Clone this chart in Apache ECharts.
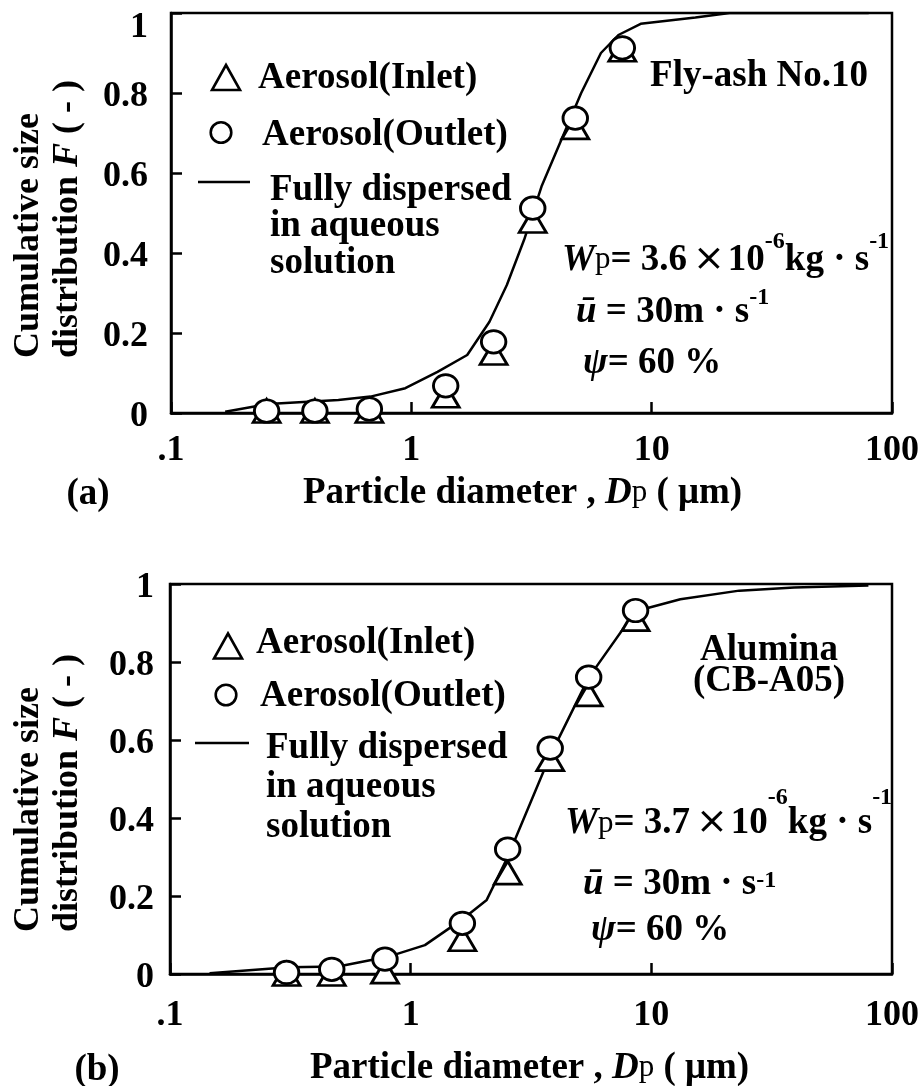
<!DOCTYPE html>
<html>
<head>
<meta charset="utf-8">
<script src="https://cdn.jsdelivr.net/npm/echarts@6/dist/echarts.min.js"></script>
<style>
  html, body { margin: 0; padding: 0; background: #fff; }
  #chart { width: 923px; height: 1086px; }
</style>
</head>
<body>
<div id="chart"></div>
<script>
// tick labels
const xTickLabels = ['.1', '1', '10', '100'];
const yTickLabels = ['0', '0.2', '0.4', '0.6', '0.8', '1'];

// (a) Fly-ash No.10 : measured points
const dpA = [0.25, 0.397, 0.669, 1.39, 2.20, 3.20, 4.81, 7.55];
const inletA = [0.005, 0.005, 0.005, 0.043, 0.15, 0.48, 0.714, 0.908];
const outletA = [0.005, 0.005, 0.01, 0.068, 0.178, 0.512, 0.737, 0.913];
// (a) fully dispersed in aqueous solution
const curveDpA = [0.168, 0.254, 0.497, 0.676, 0.944, 1.285, 1.708, 2.114, 2.497, 2.946, 3.48, 4.21, 5.09, 6.15, 7.27, 9.0, 15.2, 21.1, 80];
const curveFA = [0.003, 0.0225, 0.0325, 0.041, 0.062, 0.103, 0.145, 0.228, 0.32, 0.433, 0.566, 0.683, 0.80, 0.90, 0.945, 0.973, 0.989, 1.0, 1.0];

// (b) Alumina (CB-A05) : measured points
const dpB = [0.305, 0.47, 0.782, 1.64, 2.53, 3.80, 5.49, 8.60];
const inletB = [0, 0, 0.006, 0.089, 0.26, 0.551, 0.717, 0.91];
const outletB = [0.004, 0.012, 0.038, 0.13, 0.32, 0.579, 0.761, 0.932];
// (b) fully dispersed in aqueous solution
const curveDpB = [0.146, 0.311, 0.500, 0.803, 1.146, 1.637, 2.07, 2.53, 3.80, 5.49, 8.60, 13.2, 23.2, 39.2, 79.8];
const curveFB = [0.002, 0.017, 0.019, 0.044, 0.074, 0.14, 0.19, 0.30, 0.56, 0.76, 0.93, 0.961, 0.983, 0.991, 0.996];

const SERIF = '"Liberation Serif", "Times New Roman", serif';
const FS = 37;                      // size of the annotation text
const MID = 0.19;                   // middle of line -> baseline, in em
const BASE = FS / 2 + MID * FS;     // top of line box -> baseline
const SUP_BASE = 12 + MID * 24;     // same for the 24px superscripts
const pairs = (xs, ys) => xs.map((x, i) => [x, ys[i]]);

// rich styles; every token gets the same height so the line alignment can't move them
function richStyles(P, S) {
  const tok = (extra) => Object.assign({ fontFamily: SERIF, fontWeight: 'bold', fontSize: FS, lineHeight: FS,
                                         padding: [P, 0, 0, 0] }, extra);
  return {
    n: tok({}),
    it: tok({ fontStyle: 'italic' }),
    sub: tok({ fontWeight: 'normal', fontSize: 31 }),
    x: tok({ fontFamily: '"DejaVu Sans", sans-serif', fontWeight: 'normal', fontSize: 38, padding: [P, 3, 0, 6] }),
    sup: { fontFamily: SERIF, fontWeight: 'bold', fontSize: 24, lineHeight: 24,
           padding: [S, 0, FS + P - 24 - S, 0] }
  };
}

// text placed by its baseline
function txt(x, base, text, align) {
  return {
    type: 'text', x: x, y: base - BASE, silent: true,
    style: { text: text, fontFamily: SERIF, fontWeight: 'bold', fontSize: FS, lineHeight: FS,
             fill: '#000', align: align || 'left', verticalAlign: 'top' }
  };
}
// rich line; d = how far the superscript baseline sits above the main one
function formula(x, base, text, d) {
  const P = d ? Math.max(0, d - (BASE - SUP_BASE)) : 0;
  const S = d ? P + (BASE - SUP_BASE) - d : 0;
  return {
    type: 'text', x: x, y: base - BASE - P, silent: true,
    style: { text: text, fill: '#000', align: 'left', verticalAlign: 'top', rich: richStyles(P, S) }
  };
}
function yTitle(bottom) {
  const rich = {
    n: { fontFamily: SERIF, fontWeight: 'bold', fontSize: 36, lineHeight: 36 },
    it: { fontFamily: SERIF, fontWeight: 'bold', fontStyle: 'italic', fontSize: 36, lineHeight: 36 }
  };
  return [
    { type: 'text', x: 29, y: bottom, rotation: Math.PI / 2, silent: true,
      style: { text: 'Cumulative size', fontFamily: SERIF, fontWeight: 'bold', fontSize: 36, lineHeight: 36,
               fill: '#000', align: 'left', verticalAlign: 'middle' } },
    { type: 'text', x: 68, y: bottom, rotation: Math.PI / 2, silent: true,
      style: { text: '{n|distribution }{it|F}{n| ( - )}', fill: '#000', align: 'left', verticalAlign: 'middle',
               rich: rich } }
  ];
}
function legendKeys(tri, circ, line) {
  const s = { fill: '#fff', stroke: '#000', lineWidth: 2.6 };
  return [
    { type: 'polygon', silent: true, shape: { points: [[tri[0], tri[1] - 12.5], [tri[0] + 14, tri[1] + 12.5], [tri[0] - 14, tri[1] + 12.5]] }, style: s },
    { type: 'circle', silent: true, shape: { cx: circ[0], cy: circ[1], r: 10.3 }, style: s },
    { type: 'line', silent: true, shape: { x1: line[0], y1: line[2], x2: line[1], y2: line[2] }, style: { stroke: '#000', lineWidth: 2.5 } }
  ];
}

const graphic = [].concat(
  // panel (a)
  legendKeys([226, 77.5], [221, 132.5], [198, 250, 182]),
  [
    txt(258, 85, 'Aerosol(Inlet)'),
    txt(262, 142, 'Aerosol(Outlet)'),
    txt(270, 197, 'Fully dispersed'),
    txt(270, 233, 'in aqueous'),
    txt(270, 270, 'solution'),
    txt(868, 83, 'Fly-ash No.10', 'right'),
    formula(562, 273, '{it|W}{sub|p}{n|= 3.6}{x|×}{n|10}{sup|-6}{n|kg · s}{sup|-1}', 21),
    formula(576, 323, '{it|ū}{n| = 30m · s}{sup|-1}', 17),
    formula(583, 370, '{it|ψ}{n|= 60 %}', 0),
    txt(88, 501, '(a)', 'center'),
    formula(303, 500, '{n|Particle diameter , }{it|D}{sub|p}{n| ( μm)}', 0)
  ],
  yTitle(358),
  // panel (b)
  legendKeys([228, 646], [226, 695], [195, 249, 743]),
  [
    txt(256, 650, 'Aerosol(Inlet)'),
    txt(260, 703, 'Aerosol(Outlet)'),
    txt(266, 755, 'Fully dispersed'),
    txt(266, 794, 'in aqueous'),
    txt(266, 834, 'solution'),
    txt(769, 657, 'Alumina', 'center'),
    txt(769, 688, '(CB-A05)', 'center'),
    formula(565, 840, '{it|W}{sub|p}{n|= 3.7}{x|×}{n|10}{sup|-6}{n|kg · s}{sup|-1}', 28),
    formula(583, 891, '{it|ū}{n| = 30m · s}{sup|-1}', 6),
    formula(591, 937, '{it|ψ}{n|= 60 %}', 0),
    txt(97, 1077, '(b)', 'center'),
    formula(310, 1075, '{n|Particle diameter , }{it|D}{sub|p}{n| ( μm)}', 0)
  ],
  yTitle(932)
);

const labelFont = { fontFamily: SERIF, fontWeight: 'bold', fontSize: 36, lineHeight: 36, color: '#000' };
const axisLine = { show: true, onZero: false, lineStyle: { color: '#000', width: 2.5 } };
const axisTick = { show: true, inside: true, length: 11, lineStyle: { color: '#000', width: 2.5 } };

function xAxisFor(idx, margin) {
  return {
    type: 'log', logBase: 10, gridIndex: idx, min: 0.1, max: 100, splitNumber: 3,
    axisLine: axisLine, axisTick: axisTick, splitLine: { show: false }, minorTick: { show: false },
    axisLabel: Object.assign({ margin: margin,
      formatter: v => xTickLabels[Math.round(Math.log10(v)) + 1] }, labelFont)
  };
}
function yAxisFor(idx, margin, topPad) {
  return {
    type: 'value', gridIndex: idx, min: 0, max: 1, interval: 0.2,
    axisLine: axisLine, axisTick: axisTick, splitLine: { show: false },
    axisLabel: Object.assign({ margin: margin, padding: [8, 0, 0, 0],
      formatter: v => {
        const i = Math.round(v * 5);
        return i === 5 ? '{t|' + yTickLabels[i] + '}' : yTickLabels[i];
      },
      rich: { t: Object.assign({ padding: [topPad, 0, 0, 0] }, labelFont) } }, labelFont)
  };
}
function seriesFor(idx, curveX, curveY, dp, inlet, outlet) {
  const marker = { color: '#fff', borderColor: '#000', borderWidth: 2.8, opacity: 1 };
  return [
    { name: 'Fully dispersed in aqueous solution', type: 'line', xAxisIndex: idx, yAxisIndex: idx,
      data: pairs(curveX, curveY), showSymbol: false, symbol: 'none', z: 2,
      lineStyle: { color: '#000', width: 2.5, opacity: 1 } },
    { name: 'Aerosol(Inlet)', type: 'scatter', xAxisIndex: idx, yAxisIndex: idx,
      data: pairs(dp, inlet), symbol: 'triangle', symbolSize: [27, 23], itemStyle: marker, z: 3 },
    { name: 'Aerosol(Outlet)', type: 'scatter', xAxisIndex: idx, yAxisIndex: idx,
      data: pairs(dp, outlet), symbol: 'circle', symbolSize: [24.5, 22.5], itemStyle: marker, z: 4 }
  ];
}

const chart = echarts.init(document.getElementById('chart'));
chart.setOption({
  animation: false,
  backgroundColor: '#fff',
  grid: [
    { left: 171, top: 13, width: 721, height: 400, show: true, borderColor: '#000', borderWidth: 2.5,
      containLabel: false, outerBoundsMode: 'none' },
    { left: 170, top: 584, width: 722, height: 390, show: true, borderColor: '#000', borderWidth: 2.5,
      containLabel: false, outerBoundsMode: 'none' }
  ],
  xAxis: [xAxisFor(0, 20), xAxisFor(1, 24)],
  yAxis: [yAxisFor(0, 23, 22), yAxisFor(1, 16, 0)],
  series: [].concat(
    seriesFor(0, curveDpA, curveFA, dpA, inletA, outletA),
    seriesFor(1, curveDpB, curveFB, dpB, inletB, outletB)
  ),
  graphic: graphic
});
</script>
</body>
</html>
